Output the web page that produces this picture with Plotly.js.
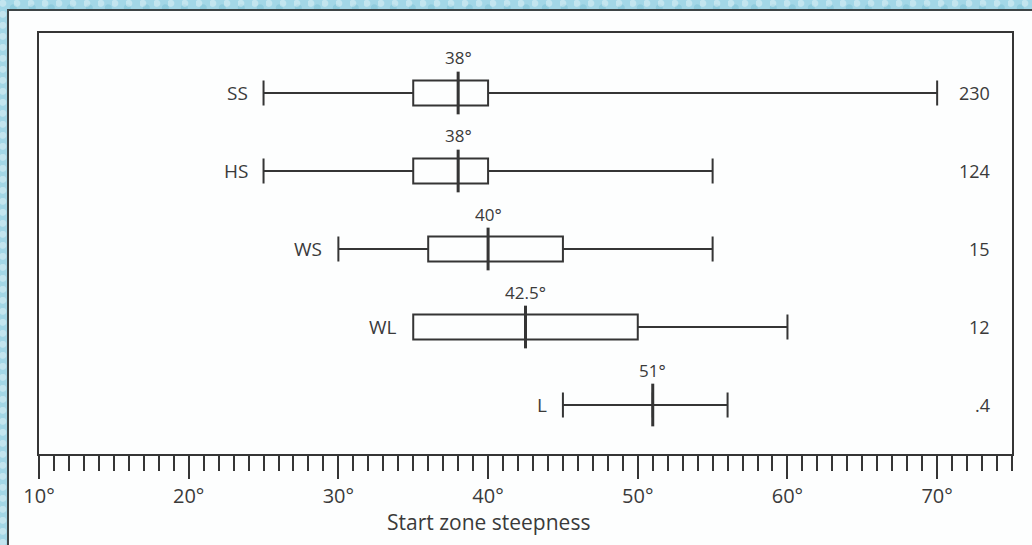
<!DOCTYPE html>
<html>
<head>
<meta charset="utf-8">
<script src="https://cdn.plot.ly/plotly-3.0.1.min.js"></script>
<style>
  html, body { margin: 0; padding: 0; }
  body {
    width: 1032px; height: 545px; overflow: hidden; position: relative;
    background-color: #a3d7e7;
    background-image:
      radial-gradient(circle at 20% 30%, rgba(255,255,255,0.35) 0 3px, transparent 4px),
      radial-gradient(circle at 70% 60%, rgba(120,190,210,0.45) 0 3px, transparent 4px);
    background-size: 14px 11px, 19px 13px;
  }
  #panel {
    position: absolute; left: 7px; top: 9px; width: 1040px; height: 560px;
    background: #fdfefe; border-left: 2px solid #3d4446; border-top: 2px solid #3d4446;
  }
  #chart { position: absolute; left: 0; top: 0; width: 1032px; height: 545px; }
</style>
</head>
<body>
<div id="panel"></div>
<div id="chart"></div>
<script>
// ---- data ----
const groups     = ["SS", "HS", "WS", "WL", "L"];
const counts     = ["230", "124", "15", "12", ".4"];
const lowWhisker = [25, 25, 30, 35, 45];
const q1         = [35, 35, 36, 35, 51];
const medians    = [38, 38, 40, 42.5, 51];
const q3         = [40, 40, 45, 50, 51];
const highWhisker= [70, 55, 55, 60, 56];
const tickVals   = [10, 20, 30, 40, 50, 60, 70];
const tickText   = ["10°", "20°", "30°", "40°", "50°", "60°", "70°"];
const xTitle     = "Start zone steepness";

const rows = groups.map((g, i) => i);
const ink = "#353535";
const txt = "#3a3a3a";
const FONT = "Open Sans, Noto Sans, sans-serif";

const boxTrace = {
  type: "box", orientation: "h",
  y: rows, q1: q1, median: medians, q3: q3,
  lowerfence: lowWhisker, upperfence: highWhisker,
  width: 0.32, whiskerwidth: 1,
  boxpoints: false,
  fillcolor: "rgba(255,255,255,0)",
  line: { color: ink, width: 2 },
  hoverinfo: "skip", showlegend: false
};

const medianTrace = {
  type: "scatter", mode: "markers",
  x: medians, y: rows,
  marker: { symbol: "line-ns", size: 30.5, line: { color: ink, width: 3 } },
  hoverinfo: "skip", showlegend: false
};

const annotations = [];
rows.forEach(i => {
  annotations.push({
    x: medians[i], y: i, xref: "x", yref: "y",
    text: medians[i] + "°", showarrow: false, yshift: 35,
    font: { family: FONT, size: 17, color: txt }
  });
  annotations.push({
    x: lowWhisker[i], y: i, xref: "x", yref: "y",
    text: groups[i], showarrow: false, xanchor: "right", xshift: -14,
    font: { family: FONT, size: 19, color: txt }
  });
  annotations.push({
    x: 0.9794, y: i, xref: "paper", yref: "y",
    text: counts[i], showarrow: false, xanchor: "right",
    font: { family: FONT, size: 18, color: txt }
  });
});
annotations.push({
  x: 0.4615, y: -0.162, xref: "paper", yref: "paper",
  text: xTitle, showarrow: false, xanchor: "center", yanchor: "middle",
  font: { family: FONT, size: 21, color: txt }
});

const layout = {
  width: 1032, height: 545,
  margin: { l: 39, r: 20, t: 33, b: 91, pad: 0 },
  paper_bgcolor: "rgba(0,0,0,0)",
  plot_bgcolor: "rgba(0,0,0,0)",
  showlegend: false,
  xaxis: {
    range: [10, 75], showgrid: false, zeroline: false,
    showline: true, mirror: true, linecolor: ink, linewidth: 2,
    ticks: "outside", ticklen: 23, tickwidth: 2, tickcolor: ink,
    tickmode: "array", tickvals: tickVals, ticktext: tickText,
    tickfont: { family: FONT, size: 20, color: txt },
    minor: { dtick: 1, tick0: 10, ticks: "outside", ticklen: 15, tickwidth: 2, tickcolor: ink, showgrid: false }
  },
  yaxis: {
    range: [4.628, -0.769], showgrid: false, zeroline: false,
    showline: true, mirror: true, linecolor: ink, linewidth: 2,
    showticklabels: false, ticks: ""
  },
  annotations: annotations
};

Plotly.newPlot("chart", [boxTrace, medianTrace], layout, { staticPlot: true, displayModeBar: false });
</script>
</body>
</html>
